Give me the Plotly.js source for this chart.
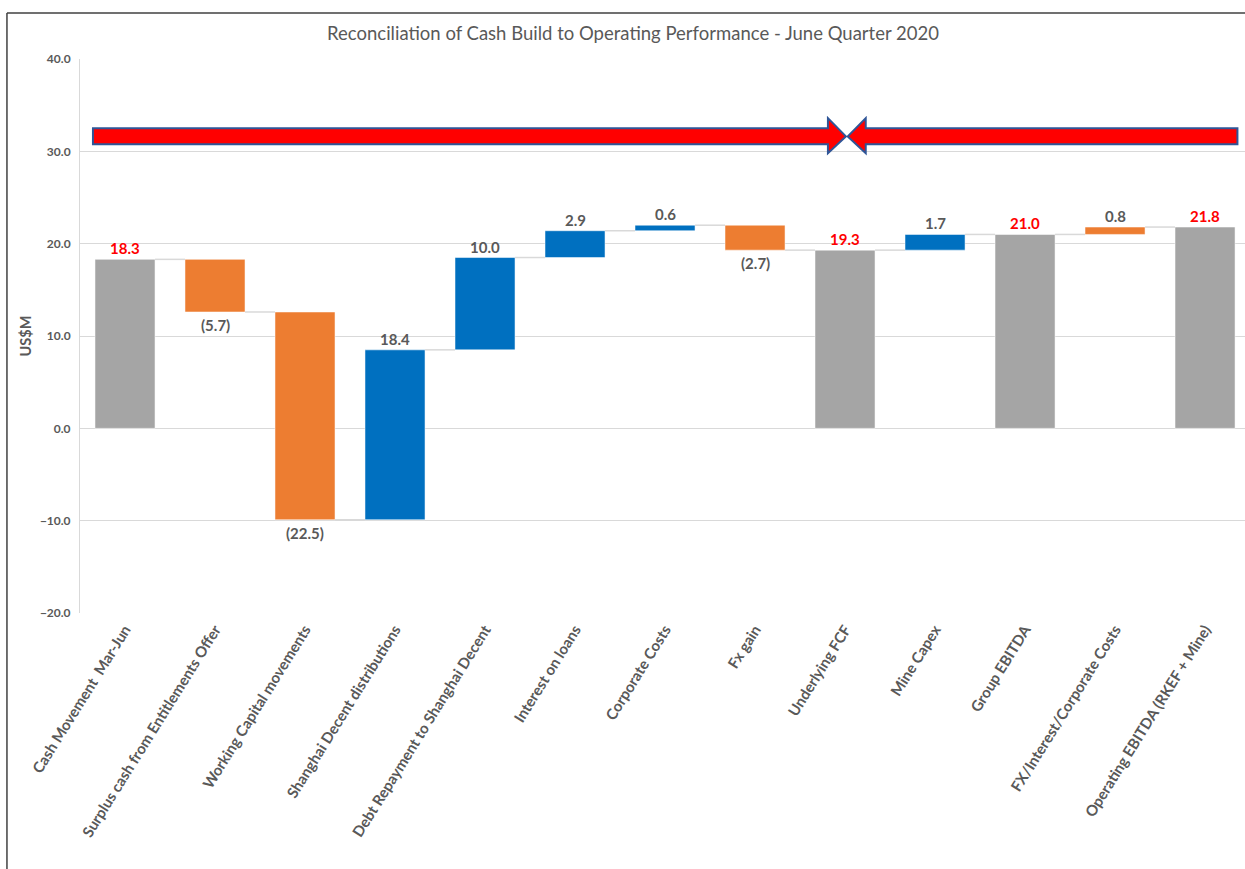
<!DOCTYPE html>
<html>
<head>
<meta charset="utf-8">
<script src="https://cdn.plot.ly/plotly-3.0.1.min.js"></script>
<style>html,body{margin:0;padding:0;background:#fff;}#chart{width:1245px;height:869px;}</style>
</head>
<body>
<div id="chart"></div>
<script>
// ---- data ----
var categories = [
  "Cash Movement  Mar-Jun",
  "Surplus cash from Entitlements Offer",
  "Working Capital movements",
  "Shanghai Decent distributions",
  "Debt Repayment to Shanghai Decent",
  "Interest on loans",
  "Corporate Costs",
  "Fx gain",
  "Underlying FCF",
  "Mine Capex",
  "Group EBITDA",
  "FX/Interest/Corporate Costs",
  "Operating EBITDA (RKEF + Mine)"
];
var values   = [18.3, -5.7, -22.5, 18.4, 10.0, 2.9, 0.6, -2.7, 19.3, 1.7, 21.0, 0.8, 21.8];
var measures = ["total","delta","delta","delta","delta","delta","delta","delta","total","delta","total","delta","total"];
var barKinds = ["total","cost","cost","gain","gain","gain","gain","cost","total","gain","total","cost","total"];
var yTicks = [-20, -10, 0, 10, 20, 30, 40];
var chartTitle = "Reconciliation of Cash Build to Operating Performance - June Quarter 2020";

(function () {
// ---- styles ----
var kindColor = {total: "#A5A5A5", cost: "#ED7D31", gain: "#0070C0"};
var barW = 0.667;
var FONT = "Lato, 'Open Sans', sans-serif";

// ---- build waterfall geometry ----
var xs = [], bases = [], heights = [], colors = [], levelsAfter = [];
var level = 0;
for (var i = 0; i < values.length; i++) {
  xs.push(i);
  if (measures[i] === "total") {
    bases.push(0); heights.push(values[i]); level = values[i];
  } else {
    bases.push(level); heights.push(values[i]); level = level + values[i];
  }
  levelsAfter.push(level);
  colors.push(kindColor[barKinds[i]]);
}

// connectors
var cx = [], cy = [];
for (var j = 0; j < values.length - 1; j++) {
  cx.push(j + barW / 2, j + 1 - barW / 2, null);
  cy.push(levelsAfter[j], levelsAfter[j], null);
}

// labels
function fmt(v) {
  var s = Math.abs(v).toFixed(1);
  return v < 0 ? "(" + s + ")" : s;
}
var annotations = [];
for (var k = 0; k < values.length; k++) {
  var hi = Math.max(bases[k], bases[k] + heights[k]);
  var lo = Math.min(bases[k], bases[k] + heights[k]);
  var isTotal = measures[k] === "total";
  var neg = values[k] < 0;
  annotations.push({
    x: k, y: neg ? lo : hi, xref: "x", yref: "y",
    text: fmt(values[k]), showarrow: false,
    yanchor: neg ? "top" : "bottom", yshift: neg ? -2 : 0,
    font: {family: FONT, size: 15, color: isTotal ? "#FF0000" : "#595959", weight: 700}
  });
}

var traceBars = {
  type: "bar", x: xs, y: heights, base: bases, width: barW,
  marker: {color: colors, line: {color: "rgba(255,255,255,0.5)", width: 1}},
  hoverinfo: "skip", showlegend: false
};
var traceConn = {
  type: "scatter", mode: "lines", x: cx, y: cy,
  line: {color: "#D9D9D9", width: 1.5}, hoverinfo: "skip", showlegend: false,
  connectgaps: false
};

// decorative arrows (data coords on linear x axis)
var lineBlue = {color: "#2F5597", width: 2};
var shapes = [
  {type: "path", xref: "x", yref: "y", layer: "above",
   path: "M -0.356 30.76 L 7.81 30.76 L 7.81 29.8 L 8.01 31.62 L 7.81 33.6 L 7.81 32.5 L -0.356 32.5 Z",
   fillcolor: "#FF0000", line: lineBlue},
  {type: "path", xref: "x", yref: "y", layer: "above",
   path: "M 12.36 30.76 L 8.23 30.76 L 8.23 29.8 L 8.03 31.62 L 8.23 33.6 L 8.23 32.5 L 12.36 32.5 Z",
   fillcolor: "#FF0000", line: lineBlue},
  // outer frame (top & left visible; the rest is cropped)
  {type: "line", xref: "paper", yref: "paper", x0: -0.0627, x1: 1.02, y0: 1.083, y1: 1.083, line: {color: "#404040", width: 1.5}},
  {type: "line", xref: "paper", yref: "paper", x0: -0.0627, x1: -0.0627, y0: 1.083, y1: -0.47, line: {color: "#404040", width: 1.5}}
];

var layout = {
  width: 1245, height: 869,
  margin: {l: 80, r: 0, t: 59, b: 256},
  paper_bgcolor: "#FFFFFF", plot_bgcolor: "#FFFFFF",
  font: {family: FONT, color: "#595959"},
  title: {text: chartTitle, x: 633 / 1245, xref: "container", xanchor: "center", y: 1 - 34 / 869, yref: "container", yanchor: "middle",
          font: {family: FONT, size: 18.5, color: "#595959"}},
  xaxis: {
    type: "linear", range: [-0.5, 12.444], tickvals: xs, ticktext: categories,
    tickangle: -58, showgrid: false, zeroline: false, showline: false, ticks: "",
    ticklabelstandoff: 4,
    tickfont: {family: FONT, size: 15, color: "#595959", weight: 700},
    fixedrange: true
  },
  yaxis: {
    range: [-20, 40], tickvals: yTicks, tickformat: ".1f",
    showgrid: true, gridcolor: "#D9D9D9", gridwidth: 1,
    zeroline: true, zerolinecolor: "#D9D9D9", zerolinewidth: 1,
    showline: true, linecolor: "#D9D9D9", linewidth: 1,
    ticks: "", ticklabelstandoff: 6,
    tickfont: {family: FONT, size: 12, color: "#595959", weight: 700},
    title: {text: "US$M", standoff: 4, font: {family: FONT, size: 14.5, color: "#595959", weight: 700}},
    fixedrange: true
  },
  annotations: annotations,
  shapes: shapes,
  showlegend: false,
  bargap: 0
};

Plotly.newPlot("chart", [traceConn, traceBars], layout, {displayModeBar: false, staticPlot: true});
})();
</script>
</body>
</html>
